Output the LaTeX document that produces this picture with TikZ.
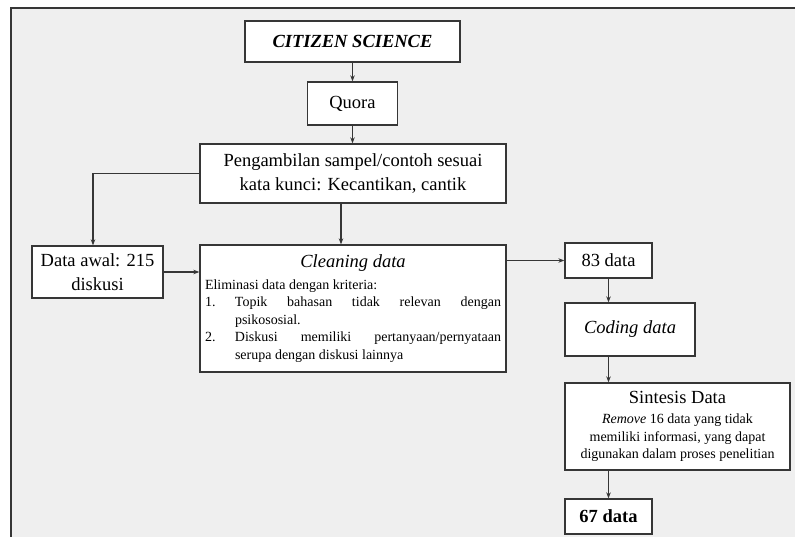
\documentclass[tikz,border=0pt]{standalone}
\usepackage{fontspec}
\setmainfont{Liberation Serif}
\usetikzlibrary{arrows.meta}
\definecolor{bg}{HTML}{EFEFEF}
\definecolor{ink}{HTML}{363636}
\tikzset{
  box/.style={draw=ink, line width=1.3pt, fill=white, inner sep=0pt, align=center,
    text=black, font=\fontsize{18.5}{23.5}\selectfont},
  conn/.style={draw=ink, line width=1.1pt, -{Stealth[length=6pt,width=4.5pt]}},
  frameline/.style={draw=ink, line width=2pt},
}
\begin{document}
\begin{tikzpicture}[x=1pt,y=-1pt]
\useasboundingbox (0,0) rectangle (795,537);
\fill[white] (0,0) rectangle (795,537);
\fill[bg] (11,8) rectangle (795,537);
\draw[frameline] (795,8) -- (11,8) -- (11,537);

\node[box, minimum width=215pt, minimum height=41pt] (cs) at (352.5,41.5)
  {\textbf{\textit{CITIZEN SCIENCE}}};
\node[box, minimum width=90pt, minimum height=43pt] (quora) at (352.5,103.5) {Quora};
\node[box, minimum width=306pt, minimum height=59pt, font=\fontsize{18.5}{24.5}\selectfont] (peng) at (353,173.5)
  {Pengambilan sampel/contoh sesuai\\kata kunci: Kecantikan, cantik};
\node[box, minimum width=131pt, minimum height=52pt] (dawal) at (97.5,272)
  {Data awal: 215\\diskusi};
\node[box, minimum width=306pt, minimum height=127pt] (clean) at (353,308.5)
  {\begin{minipage}{296pt}\setlength{\parindent}{0pt}%
    {\centering\fontsize{18.5}{22}\selectfont\itshape Cleaning data\par}%
    \vspace{4pt}%
    \fontsize{14}{17.5}\selectfont
    Eliminasi data dengan kriteria:\par
    \makebox[30pt][l]{1.}\hbox to 266pt{Topik\hfill bahasan\hfill tidak\hfill relevan\hfill dengan}\par
    \hspace*{30pt}psikososial.\par
    \makebox[30pt][l]{2.}\hbox to 266pt{Diskusi\hfill memiliki\hfill pertanyaan/pernyataan}\par
    \hspace*{30pt}serupa dengan diskusi lainnya\par
  \end{minipage}};
\node[box, minimum width=87pt, minimum height=35pt] (d83) at (608.5,260.5) {83 data};
\node[box, minimum width=130pt, minimum height=53pt] (coding) at (630,329.5) {\textit{Coding data}};
\node[box, minimum width=225pt, minimum height=87pt] (sint) at (677.5,426.5)
  {\begin{minipage}{220pt}\centering
    {\fontsize{18.5}{22}\selectfont Sintesis Data\par}%
    \vspace{2.5pt}%
    \fontsize{14}{17.5}\selectfont
    \textit{Remove} 16 data yang tidak\par
    memiliki informasi, yang dapat\par
    digunakan dalam proses penelitian\par
  \end{minipage}};
\node[box, minimum width=87pt, minimum height=35pt] (d67) at (608.5,516.5) {\textbf{67 data}};

\draw[conn] (cs.south) -- (cs.south |- quora.north);
\draw[conn] (quora.south) -- (quora.south |- peng.north);
\draw[conn] ([xshift=-12pt]peng.south) -- ([xshift=-12pt]peng.south |- clean.north);
\draw[conn] (peng.west) -| ([xshift=-4.5pt]dawal.north);
\draw[conn] (dawal.east) -- (dawal.east -| clean.west);
\draw[conn] (clean.east |- d83.west) -- (d83.west);
\draw[conn] (d83.south) -- (d83.south |- coding.north);
\draw[conn] (d83.south |- coding.south) -- (d83.south |- sint.north);
\draw[conn] (d83.south |- sint.south) -- (d67.north);
\end{tikzpicture}
\end{document}
